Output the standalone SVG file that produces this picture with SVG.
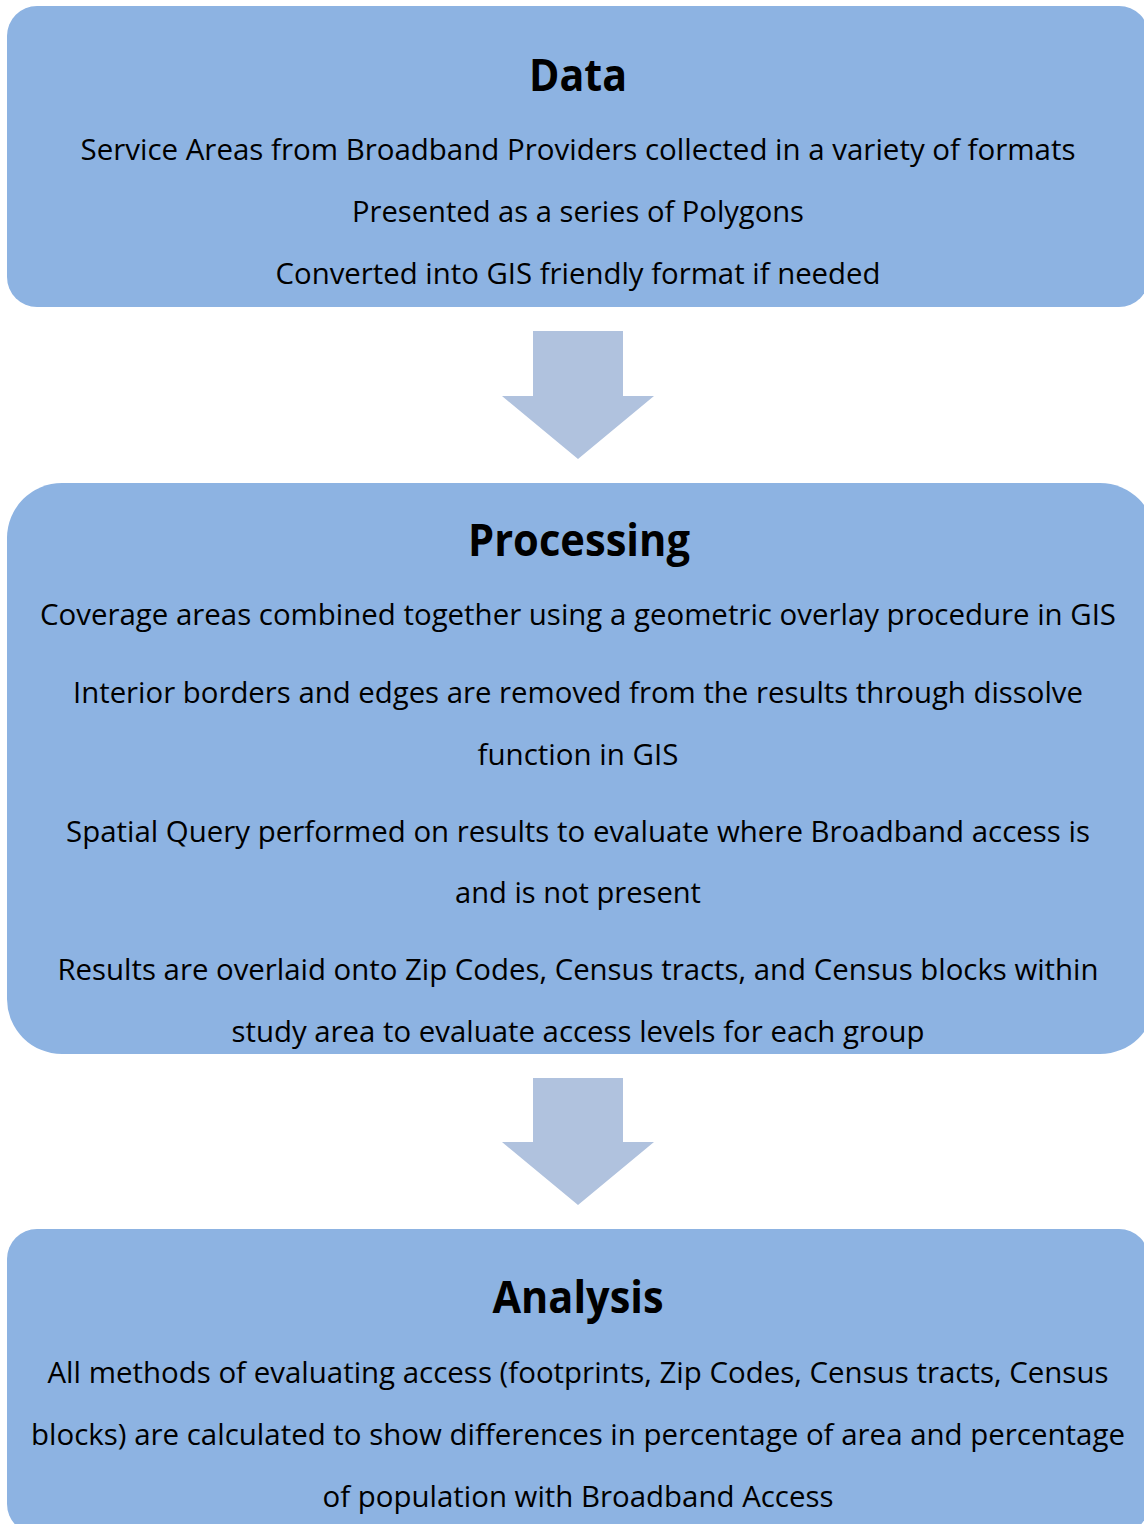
<svg xmlns="http://www.w3.org/2000/svg" width="1144" height="1524" viewBox="0 0 1144 1524">
<style>
.box{fill:#8DB3E2;}
.arrow{fill:#B0C2DE;}
.t{font-family:"Open Sans","Liberation Sans",sans-serif;fill:#000;text-anchor:middle;}
.title{font-size:45px;font-weight:bold;}
.body{font-size:29px;}
</style>
<rect width="1144" height="1524" fill="#fff"/>
<g id="connectors">
<polygon class="arrow" points="533,331 623,331 623,396 654,396 578,459 502,396 533,396"/>
<polygon class="arrow" points="533,1078 623,1078 623,1142 654,1142 578,1205 502,1142 533,1142"/>
</g>
<g id="data">
<rect class="box" x="7" y="6" width="1142" height="301" rx="30" ry="30"/>
<text class="t title" x="578" y="91" textLength="98" lengthAdjust="spacingAndGlyphs">Data</text>
<text class="t body" x="578" y="160" textLength="995" lengthAdjust="spacingAndGlyphs">Service Areas from Broadband Providers collected in a variety of formats</text>
<text class="t body" x="578" y="222" textLength="452" lengthAdjust="spacingAndGlyphs">Presented as a series of Polygons</text>
<text class="t body" x="578" y="284" textLength="605" lengthAdjust="spacingAndGlyphs">Converted into GIS friendly format if needed</text>
</g>
<g id="processing">
<rect class="box" x="7" y="483" width="1148" height="571" rx="55" ry="55"/>
<text class="t title" x="579" y="556" textLength="222" lengthAdjust="spacingAndGlyphs">Processing</text>
<text class="t body" x="578" y="625" textLength="1076" lengthAdjust="spacingAndGlyphs">Coverage areas combined together using a geometric overlay procedure in GIS</text>
<text class="t body" x="578" y="703" textLength="1010" lengthAdjust="spacingAndGlyphs">Interior borders and edges are removed from the results through dissolve</text>
<text class="t body" x="578" y="765" textLength="201" lengthAdjust="spacingAndGlyphs">function in GIS</text>
<text class="t body" x="578" y="842" textLength="1024" lengthAdjust="spacingAndGlyphs">Spatial Query performed on results to evaluate where Broadband access is</text>
<text class="t body" x="578" y="903" textLength="246" lengthAdjust="spacingAndGlyphs">and is not present</text>
<text class="t body" x="578" y="980" textLength="1041" lengthAdjust="spacingAndGlyphs">Results are overlaid onto Zip Codes, Census tracts, and Census blocks within</text>
<text class="t body" x="578" y="1042" textLength="693" lengthAdjust="spacingAndGlyphs">study area to evaluate access levels for each group</text>
</g>
<g id="analysis">
<rect class="box" x="7" y="1229" width="1142" height="305" rx="30" ry="30"/>
<text class="t title" x="578" y="1313" textLength="171" lengthAdjust="spacingAndGlyphs">Analysis</text>
<text class="t body" x="578" y="1383" textLength="1061" lengthAdjust="spacingAndGlyphs">All methods of evaluating access (footprints, Zip Codes, Census tracts, Census</text>
<text class="t body" x="578" y="1445" textLength="1094" lengthAdjust="spacingAndGlyphs">blocks) are calculated to show differences in percentage of area and percentage</text>
<text class="t body" x="578" y="1507" textLength="511" lengthAdjust="spacingAndGlyphs">of population with Broadband Access</text>
</g>
</svg>
